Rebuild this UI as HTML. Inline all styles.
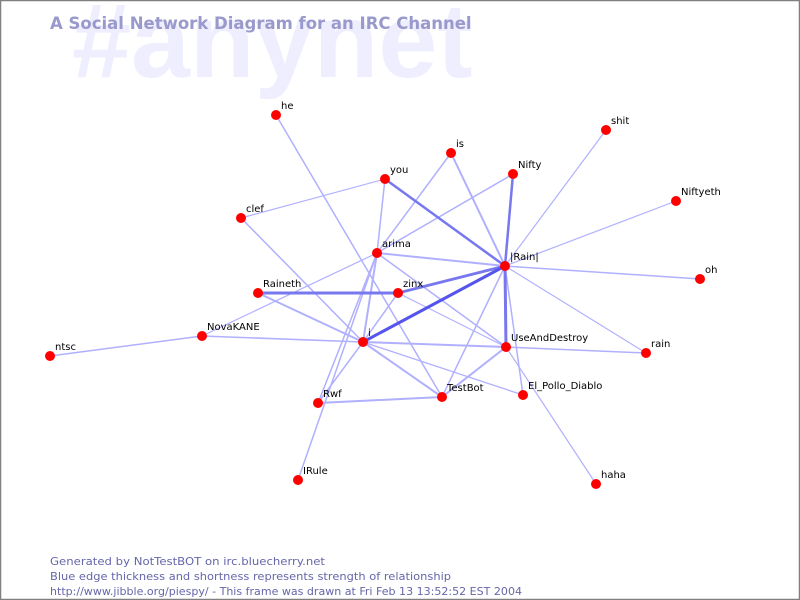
<!DOCTYPE html>
<html><head><meta charset="utf-8"><style>
html,body{margin:0;padding:0;background:#fff}
svg{display:block}
text{font-family:"DejaVu Sans","Liberation Sans",sans-serif}
</style></head><body>
<svg width="800" height="600" viewBox="0 0 800 600" xmlns="http://www.w3.org/2000/svg">
<rect x="0" y="0" width="800" height="600" fill="#fff"/>
<text x="72" y="77" font-size="106" font-weight="bold" fill="#eeeeff" style="font-family:'Liberation Sans',sans-serif">#anynet</text>
<text x="50" y="29" font-size="16.5" font-weight="bold" fill="#9999cc">A Social Network Diagram for an IRC Channel</text>
<g stroke="#b0b0ff" stroke-width="1.5" fill="none" stroke-linecap="round">
<line x1="276" y1="115" x2="442" y2="397"/>
<line x1="385" y1="179" x2="377" y2="253"/>
<line x1="385" y1="179" x2="241" y2="218" stroke-width="1.2"/>
<line x1="451" y1="153" x2="377" y2="253"/>
<line x1="451" y1="153" x2="505" y2="266" stroke-width="2"/>
<line x1="513" y1="174" x2="377" y2="253"/>
<line x1="377" y1="253" x2="505" y2="266" stroke-width="2"/>
<line x1="241" y1="218" x2="363" y2="342"/>
<line x1="606" y1="130" x2="505" y2="266" stroke-width="1.2"/>
<line x1="676" y1="201" x2="505" y2="266" stroke-width="1.2"/>
<line x1="700" y1="279" x2="505" y2="266" stroke-width="1.5"/>
<line x1="646" y1="353" x2="505" y2="266" stroke-width="1.2"/>
<line x1="646" y1="353" x2="506" y2="347"/>
<line x1="505" y1="266" x2="442" y2="397"/>
<line x1="505" y1="266" x2="523" y2="395"/>
<line x1="506" y1="347" x2="596" y2="484" stroke-width="1.2"/>
<line x1="377" y1="253" x2="506" y2="347"/>
<line x1="398" y1="293" x2="506" y2="347" stroke-width="1.2"/>
<line x1="377" y1="253" x2="202" y2="336" stroke-width="1.2"/>
<line x1="377" y1="253" x2="363" y2="342" stroke-width="2"/>
<line x1="377" y1="253" x2="318" y2="403"/>
<line x1="377" y1="253" x2="298" y2="480"/>
<line x1="258" y1="293" x2="363" y2="342" stroke-width="2"/>
<line x1="202" y1="336" x2="363" y2="342"/>
<line x1="50" y1="356" x2="202" y2="336"/>
<line x1="363" y1="342" x2="506" y2="347" stroke-width="2"/>
<line x1="363" y1="342" x2="442" y2="397" stroke-width="2"/>
<line x1="363" y1="342" x2="523" y2="395" stroke-width="1.3"/>
<line x1="363" y1="342" x2="318" y2="403"/>
<line x1="363" y1="342" x2="398" y2="293"/>
<line x1="318" y1="403" x2="442" y2="397" stroke-width="2"/>
<line x1="442" y1="397" x2="506" y2="347" stroke-width="2"/>
</g>
<g stroke="#7777ee" fill="none" stroke-linecap="round">
<line x1="385" y1="179" x2="505" y2="266" stroke-width="2.5"/>
<line x1="513" y1="174" x2="505" y2="266" stroke-width="2.5"/>
<line x1="505" y1="266" x2="506" y2="347" stroke-width="3"/>
<line x1="505" y1="266" x2="398" y2="293" stroke-width="2.8"/>
<line x1="258" y1="293" x2="398" y2="293" stroke-width="3"/>
</g>
<line x1="505" y1="266" x2="363" y2="342" stroke="#5555ee" stroke-width="3" stroke-linecap="round"/>
<g fill="#ff0000">
<circle cx="276" cy="115" r="5"/><circle cx="451" cy="153" r="5"/><circle cx="606" cy="130" r="5"/>
<circle cx="385" cy="179" r="5"/><circle cx="513" cy="174" r="5"/><circle cx="676" cy="201" r="5"/>
<circle cx="241" cy="218" r="5"/><circle cx="377" cy="253" r="5"/><circle cx="505" cy="266" r="5"/>
<circle cx="700" cy="279" r="5"/><circle cx="258" cy="293" r="5"/><circle cx="398" cy="293" r="5"/>
<circle cx="202" cy="336" r="5"/><circle cx="50" cy="356" r="5"/><circle cx="363" cy="342" r="5"/>
<circle cx="506" cy="347" r="5"/><circle cx="646" cy="353" r="5"/><circle cx="318" cy="403" r="5"/>
<circle cx="442" cy="397" r="5"/><circle cx="523" cy="395" r="5"/><circle cx="298" cy="480" r="5"/>
<circle cx="596" cy="484" r="5"/>
</g>
<g font-size="10" fill="#000">
<text x="281" y="109">he</text><text x="456" y="147">is</text><text x="611" y="124">shit</text>
<text x="390" y="173">you</text><text x="518" y="168">Nifty</text><text x="681" y="195">Niftyeth</text>
<text x="246" y="212">clef</text><text x="382" y="247">arima</text><text x="510" y="260">|Rain|</text>
<text x="705" y="273">oh</text><text x="263" y="287">Raineth</text><text x="403" y="287">zinx</text>
<text x="207" y="330">NovaKANE</text><text x="55" y="350">ntsc</text><text x="368" y="336">i</text>
<text x="511" y="341">UseAndDestroy</text><text x="651" y="347">rain</text><text x="323" y="397">Rwf</text>
<text x="447" y="391">TestBot</text><text x="528" y="389">El_Pollo_Diablo</text><text x="303" y="474">IRule</text>
<text x="601" y="478">haha</text>
</g>
<g font-size="11" fill="#6666aa">
<text x="50" y="565" textLength="275" lengthAdjust="spacingAndGlyphs">Generated by NotTestBOT on irc.bluecherry.net</text>
<text x="50" y="580" textLength="401" lengthAdjust="spacingAndGlyphs">Blue edge thickness and shortness represents strength of relationship</text>
<text x="50" y="595" textLength="472" lengthAdjust="spacingAndGlyphs">http://www.jibble.org/piespy/ - This frame was drawn at Fri Feb 13 13:52:52 EST 2004</text>
</g>
<rect x="0.5" y="0.5" width="799" height="599" fill="none" stroke="#808080" stroke-width="1.5"/>
</svg>
</body></html>
